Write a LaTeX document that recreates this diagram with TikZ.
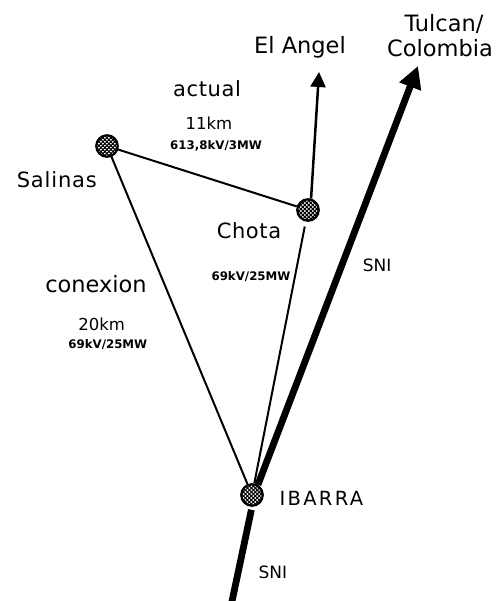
\documentclass[tikz,border=0pt]{standalone}
\usepackage{fontspec}
\setmainfont{DejaVu Sans}
\usetikzlibrary{arrows.meta,patterns.meta}
\begin{document}
\begin{tikzpicture}[x=1pt,y=-1pt,
  station/.style={circle,draw,line width=2.2pt,minimum size=21.5pt,inner sep=0pt,
    pattern={Lines[angle=45,distance=2.8pt,line width=1.1pt]},
    postaction={pattern={Lines[angle=-45,distance=2.8pt,line width=1.1pt]}}},
  thinline/.style={line width=2pt},
  thickline/.style={line width=6.8pt},
  lbl/.style={inner sep=0pt,anchor=base},
  big/.style={font=\fontsize{22.5}{24}\selectfont},
  mid/.style={font=\fontsize{21}{23}\selectfont},
  km/.style={font=\fontsize{16.5}{18}\selectfont},
  sni/.style={font=\fontsize{17}{19}\selectfont},
  rating/.style={font=\fontsize{11.8}{13}\selectfont\bfseries}]
\useasboundingbox (0,0) rectangle (496,601);
% stations
\node[station] (salinas) at (107,146) {};
\node[station] (chota) at (308,210) {};
\node[station] (ibarra) at (252,495) {};
\coordinate (angeltip) at (319,72);
\coordinate (tulcantip) at (418,66);
\coordinate (snibottom) at (231,606);
% lines
\draw[thinline] (salinas) -- (chota);
\draw[thinline] (salinas) -- (ibarra);
\draw[thinline,shorten <=5pt] (chota) -- (ibarra);
\draw[line width=2.5pt,-{Triangle[length=15pt,width=15pt]}] (chota.75) -- (angeltip);
\draw[thickline,-{Triangle[length=22pt,width=22pt]}] (ibarra.60) -- (tulcantip);
\draw[thickline,shorten <=3pt] (ibarra.south) -- (snibottom);
% labels
\node[lbl,big] (tulcan) at (444,32) {Tulcan/};
\node[lbl,big] (colombia) at (440,57) {Colombia};
\node[lbl,big] (elangel) at (300,54) {El Angel};
\node[lbl,mid,font=\fontsize{21}{23}\selectfont\addfontfeatures{LetterSpace=3}] (actual) at (207,96.7) {actual};
\node[lbl,km] (km11) at (209,130) {11km};
\node[lbl,rating] (r1) at (216,150) {613,8kV/3MW};
\node[lbl,mid,anchor=base east,font=\fontsize{21}{23}\selectfont\addfontfeatures{LetterSpace=4}] (salinaslbl) at (97,188) {Salinas};
\node[lbl,mid,font=\fontsize{21}{23}\selectfont\addfontfeatures{LetterSpace=3}] (chotalbl) at (249,238.3) {Chota};
\node[lbl,rating] (r2) at (251,280) {69kV/25MW};
\node[lbl,sni,anchor=base west] (sni1) at (362.7,271.7) {SNI};
\node[lbl,mid,font=\fontsize{22.5}{24}\selectfont] (conexion) at (96,292.3) {conexion};
\node[lbl,km] (km20) at (101.7,330) {20km};
\node[lbl,rating] (r3) at (107.8,348.3) {69kV/25MW};
\node[lbl,anchor=base west,font=\fontsize{19.5}{21}\selectfont\addfontfeatures{LetterSpace=12}] (ibarralbl) at (279.3,505.7) {IBARRA};
\node[lbl,sni,anchor=base west] (sni2) at (258.3,578.3) {SNI};
\end{tikzpicture}
\end{document}
